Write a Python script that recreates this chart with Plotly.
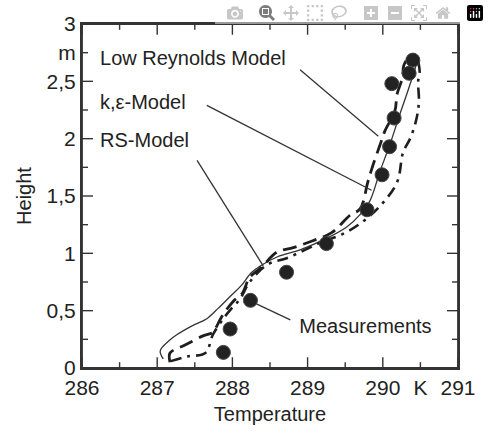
import plotly.graph_objects as go

# Measurements
meas_T = [290.40, 290.35, 290.12, 290.15, 290.09, 289.99, 289.79, 289.25, 288.72, 288.24, 287.97, 287.88]
meas_H = [2.685, 2.57, 2.48, 2.18, 1.93, 1.685, 1.38, 1.085, 0.835, 0.59, 0.34, 0.136]

# Thin solid model curve
solid_T = [287.08, 287.04, 287.16, 287.26, 287.47, 287.66, 287.81, 287.98, 288.12, 288.25, 288.37, 288.60,
           288.90, 289.25, 289.52, 289.70, 289.83, 289.96, 290.10, 290.23, 290.36, 290.44, 290.40, 290.31]
solid_H = [0.08, 0.15, 0.24, 0.29, 0.37, 0.43, 0.52, 0.63, 0.72, 0.83, 0.89, 0.97,
           1.03, 1.13, 1.23, 1.34, 1.46, 1.71, 1.96, 2.22, 2.47, 2.66, 2.71, 2.68]

# Long-dashed model curve
dash_T = [287.17, 287.17, 287.37, 287.61, 287.74, 287.78, 287.86, 288.01, 288.13, 288.23, 288.39, 288.59,
          288.81, 289.07, 289.32, 289.56, 289.70, 289.80, 289.86, 289.96, 290.03, 290.16, 290.19, 290.26,
          290.28, 290.34, 290.43]
dash_H = [0.05, 0.13, 0.20, 0.28, 0.31, 0.35, 0.45, 0.58, 0.65, 0.79, 0.88, 1.01,
          1.05, 1.11, 1.18, 1.33, 1.39, 1.62, 1.75, 1.94, 2.07, 2.24, 2.39, 2.53,
          2.64, 2.70, 2.71]

# Dash-dotted model curve
dd_T = [287.18, 287.40, 287.64, 287.74, 287.89, 287.99, 288.10, 288.23, 288.46, 288.73, 289.16, 289.47,
        289.70, 289.96, 290.19, 290.27, 290.37, 290.45, 290.48, 290.47, 290.49, 290.47]
dd_H = [0.06, 0.10, 0.13, 0.29, 0.44, 0.52, 0.60, 0.75, 0.90, 0.96, 1.09, 1.17,
        1.26, 1.41, 1.62, 1.88, 2.01, 2.18, 2.33, 2.50, 2.58, 2.68]

x_range = [286, 291]
y_range = [0, 3]
x_major = [286, 287, 288, 289, 290, 291]
x_minor = [286.5, 287.5, 288.5, 289.5, 290.5]
y_major = [0, 0.5, 1, 1.5, 2, 2.5, 3]
y_minor = [0.25, 0.75, 1.25, 1.75, 2.25, 2.75]

x_tickvals = [286, 287, 288, 289, 290, 290.5, 291]
x_ticktext = ["286", "287", "288", "289", "290", "K", "291"]
y_tickvals = [0, 0.5, 1, 1.5, 2, 2.5, 2.75, 3]
y_ticktext = ["0", "0,5", "1", "1,5", "2", "2,5", "m", "3"]

labels = ["Low Reynolds Model", "k,ε-Model", "RS-Model", "Measurements"]
label_T = [286.24, 286.24, 286.24, 288.89]
label_H = [2.685, 2.30, 1.975, 0.35]

# pointer lines: (label end) -> (curve)
ptr_T0 = [288.90, 287.66, 287.53, 288.32]
ptr_H0 = [2.60, 2.29, 1.81, 0.56]
ptr_T1 = [289.94, 289.85, 288.41, 288.77]
ptr_H1 = [2.02, 1.55, 0.89, 0.42]

FONT = "Liberation Sans, Arial, Helvetica, sans-serif"
INK = "#222222"
FRAME = "#333333"

# plot size in pixels (used to convert tick lengths into axis units)
W, H = 489, 434
ML, MR, MT, MB = 82, 31, 18, 63
px_x = (x_range[1] - x_range[0]) / (W - ML - MR)
px_y = (y_range[1] - y_range[0]) / (H - MT - MB)
MAJ, MIN = 11, 6

# frame box and inward ticks on all four sides, built from the axis ranges and tick lists
fx = [x_range[0], x_range[1], x_range[1], x_range[0], x_range[0], None]
fy = [y_range[0], y_range[0], y_range[1], y_range[1], y_range[0], None]
tx, ty = [], []
for vals, ln in ((x_major, MAJ), (x_minor, MIN)):
    for t in vals:
        tx += [t, t, None, t, t, None]
        ty += [y_range[0], y_range[0] + ln * px_y, None, y_range[1], y_range[1] - ln * px_y, None]
for vals, ln in ((y_major, MAJ), (y_minor, MIN)):
    for h in vals:
        tx += [x_range[0], x_range[0] + ln * px_x, None, x_range[1], x_range[1] - ln * px_x, None]
        ty += [h, h, None, h, h, None]

fig = go.Figure()
fig.add_trace(go.Scatter(x=solid_T, y=solid_H, mode="lines",
                         line=dict(color="#333333", width=1.3, shape="spline"), showlegend=False))
fig.add_trace(go.Scatter(x=dash_T, y=dash_H, mode="lines",
                         line=dict(color="#1e1e1e", width=2.8, dash="14px,7px", shape="spline"),
                         showlegend=False))
fig.add_trace(go.Scatter(x=dd_T, y=dd_H, mode="lines",
                         line=dict(color="#1e1e1e", width=2.6, dash="11px,6px,3px,6px", shape="spline"),
                         showlegend=False))
fig.add_trace(go.Scatter(x=meas_T, y=meas_H, mode="markers",
                         marker=dict(color="#222222", size=14, line=dict(color="#444444", width=1)),
                         showlegend=False))
fig.add_trace(go.Scatter(x=label_T, y=label_H, mode="text", text=labels, textposition="middle right",
                         textfont=dict(family=FONT, size=20, color=INK), showlegend=False))
# frame + ticks
fig.add_trace(go.Scatter(x=fx, y=fy, mode="lines", line=dict(color=FRAME, width=1.8),
                         cliponaxis=False, showlegend=False, hoverinfo="skip"))
fig.add_trace(go.Scatter(x=tx, y=ty, mode="lines", line=dict(color=FRAME, width=1.4),
                         cliponaxis=False, showlegend=False, hoverinfo="skip"))

for t0, h0, t1, h1 in zip(ptr_T0, ptr_H0, ptr_T1, ptr_H1):
    fig.add_shape(type="line", x0=t0, y0=h0, x1=t1, y1=h1, xref="x", yref="y",
                  line=dict(color="#333333", width=1.3))

fig.update_layout(
    width=W, height=H, margin=dict(l=ML, r=MR, t=MT, b=MB),
    plot_bgcolor="white", paper_bgcolor="white", showlegend=False,
    xaxis=dict(range=x_range, tickmode="array", tickvals=x_tickvals, ticktext=x_ticktext,
               showline=True, linecolor=FRAME, linewidth=2, mirror=True,
               showgrid=False, zeroline=False, ticks="",
               tickfont=dict(family=FONT, size=21, color=INK),
               title=dict(text="Temperature", font=dict(family=FONT, size=20, color=INK), standoff=9)),
    yaxis=dict(range=y_range, tickmode="array", tickvals=y_tickvals, ticktext=y_ticktext,
               showline=True, linecolor=FRAME, linewidth=2, mirror=True,
               showgrid=False, zeroline=False, ticks="",
               tickfont=dict(family=FONT, size=21, color=INK),
               title=dict(text="Height", font=dict(family=FONT, size=20, color=INK), standoff=10)),
)

fig.write_html("out.html",
               post_script="document.body.style.margin='0';document.body.style.padding='0';")
